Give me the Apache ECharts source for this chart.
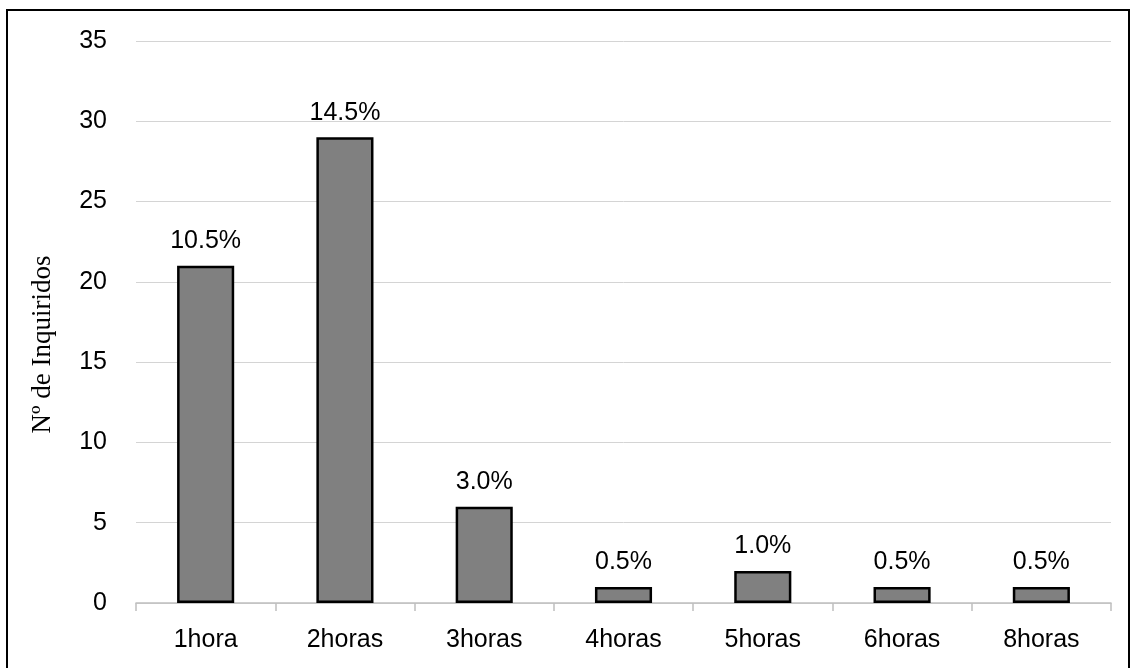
<!DOCTYPE html>
<html><head><meta charset="utf-8">
<script src="https://cdn.jsdelivr.net/npm/echarts@6/dist/echarts.min.js"></script>
<style>html,body{margin:0;padding:0;background:#fff}#b{position:absolute;left:6px;top:9px;width:1124px;height:670px;border:2px solid #000;box-sizing:border-box}#c{position:absolute;left:0;top:0;width:1132px;height:668px}</style>
</head><body><div id="b"></div><div id="c"></div>
<script>
const categories = ['1hora','2horas','3horas','4horas','5horas','6horas','8horas'];
const counts = [21, 29, 6, 1, 2, 1, 1];
const percentLabels = ['10.5%','14.5%','3.0%','0.5%','1.0%','0.5%','0.5%'];
const yTitle = 'Nº de Inquiridos';
const chart = echarts.init(document.getElementById('c'));
const sans = 'Liberation Sans';
chart.setOption({
  animation:false,
  grid:{left:136,right:21,top:41,bottom:65},
  xAxis:{type:'category',data:categories,
    axisLine:{lineStyle:{color:'#bfbfbf',width:1.5}},
    axisTick:{show:true,length:8,lineStyle:{color:'#bfbfbf',width:1.5}},
    axisLabel:{color:'#000',fontFamily:sans,fontSize:25,margin:25}},
  yAxis:{type:'value',min:0,max:35,interval:5,
    name:yTitle,nameLocation:'middle',nameGap:80,nameRotate:90,
    nameTextStyle:{fontFamily:'Liberation Serif',fontSize:27,color:'#000',padding:[0,0,0,-45]},
    axisLine:{show:false},axisTick:{show:false},
    splitLine:{lineStyle:{color:'#d4d4d4',width:1}},
    axisLabel:{color:'#000',fontFamily:sans,fontSize:25,margin:29}},
  series:[{type:'bar',barWidth:'41%',
    data:counts.map((v,i)=>({value:v,label:{formatter:percentLabels[i]}})),
    itemStyle:{color:'#808080',borderColor:'#000',borderWidth:2.5},
    label:{show:true,position:'top',distance:12,color:'#000',fontFamily:sans,fontSize:25}}]
});
</script></body></html>
